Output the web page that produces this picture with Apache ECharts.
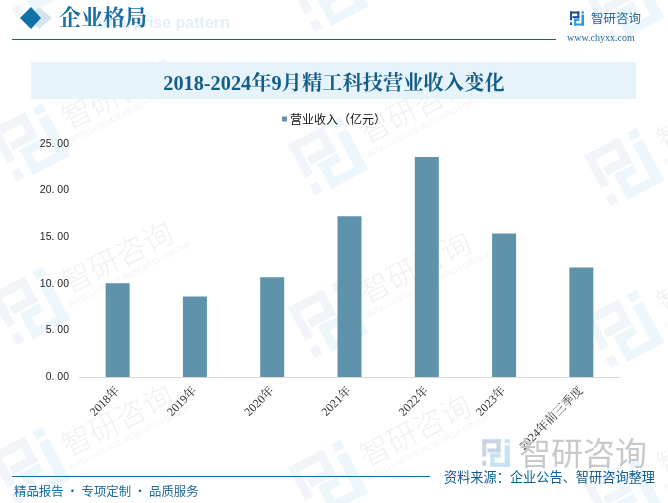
<!DOCTYPE html>
<html><head><meta charset="utf-8">
<style>html,body{margin:0;padding:0;background:#fff}#c{width:668px;height:503px}</style>
<script src="https://cdn.jsdelivr.net/npm/echarts@6/dist/echarts.min.js"></script>
</head><body><div id="c"></div>
<script>
const categories = ['2018年','2019年','2020年','2021年','2022年','2023年','2024年前三季度'];
const revenue = [10.05,8.65,10.7,17.25,23.6,15.4,11.75];
const seriesName = '营业收入（亿元）';
const chartTitle = '2018-2024年9月精工科技营业收入变化';
const watermarkSpots = [[117,93],[415,107],[712,115],[117,257],[415,267],[712,278],[117,420],[415,430],[712,440],[117,-70],[415,-56]];
const logoSpots = [[30,-20],[328,-6],[624,5],[30,143],[328,157],[624,168],[30,307],[328,320],[624,330],[30,467],[328,480],[624,497]];
const serif = '"Liberation Serif","Noto Serif CJK SC","Noto Sans CJK SC",serif';
const sans = '"Noto Sans CJK SC",sans-serif';
const g = [];
const darkParts=[[0,0,18,4],[0,0,4,17],[14,0,4,13],[5,9,13,4],[0,21,4,5]];
const lightParts=[[22,0,5,4],[22,6,5,21],[8,23,19,4],[8,14,4,13],[8,14,10,4]];
function logo(x,y,s,c1,c2,rot,z){
  const mk=(parts,color)=>parts.map(p=>({type:'rect',shape:{x:(p[0]-13.5)*s,y:(p[1]-13.5)*s,width:p[2]*s,height:p[3]*s},style:{fill:color}}));
  g.push({type:'group',x,y,rotation:rot,z:z,children:mk(darkParts,c1).concat(mk(lightParts,c2))});
}
logoSpots.forEach(p=>logo(p[0],p[1],2.2,'#f1f4f9','#ecf6fb',0.49,0));
watermarkSpots.forEach(p=>{
  g.push({type:'group',x:p[0],y:p[1],rotation:0.47,z:0,children:[
    {type:'text',style:{text:'智研咨询',x:0,y:0,align:'center',verticalAlign:'middle',font:'300 30px '+sans,fill:'#f1f1f1',letterSpacing:8}},
    {type:'text',style:{text:'INTELLIGENCE RESEARCH GROUP',x:4,y:22,align:'center',verticalAlign:'middle',font:'8px "Liberation Sans",sans-serif',fill:'#f3f3f3'}}
  ]});
});
// header
g.push({type:'polygon',z:1,shape:{points:[[39,7],[52,18],[39,29],[28,18]]},style:{fill:'#d5e5ef'}});
g.push({type:'polygon',z:2,shape:{points:[[31,7],[41,18],[31,29],[20,18]]},style:{fill:'#1070a8'}});
g.push({type:'text',z:1,style:{text:'Enterprise pattern',x:92,y:24,verticalAlign:'middle',font:'bold 16px "Liberation Sans",sans-serif',fill:'#e3f0f9'}});
g.push({type:'text',z:2,style:{text:'企业格局',x:59,y:19,verticalAlign:'middle',font:'bold 22px '+serif,fill:'#1c6e9f'}});
g.push({type:'rect',z:2,shape:{x:12,y:39,width:544,height:1},style:{fill:'#1b5f8b'}});
// brand
logo(577,18.5,0.52,'#1f4e96','#2a9bd8',0,3);
g.push({type:'text',z:3,style:{text:'智研咨询',x:591,y:18,verticalAlign:'middle',font:'12.5px '+sans,fill:'#1d6a9b',letterSpacing:1}});
g.push({type:'text',z:3,style:{text:'www.chyxx.com',x:567,y:38,verticalAlign:'middle',font:'10px '+serif,fill:'#1d6a9b',letterSpacing:1.2}});
// title band
g.push({type:'rect',z:1,shape:{x:31,y:62,width:605,height:37},style:{fill:'#e6f3fb'}});
// bottom watermark logo
logo(496,453,1.02,'#c9d5e6','#c6e2f4',0,1);
g.push({type:'text',z:1,style:{text:'智研咨询',x:519,y:453,verticalAlign:'middle',font:'32px '+sans,fill:'#c9c9c9',letterSpacing:1}});
// footer
g.push({type:'rect',z:3,shape:{x:12,y:476,width:418,height:1},style:{fill:'#1a6a9c'}});
g.push({type:'text',z:3,style:{text:'精品报告 · 专项定制 · 品质服务',x:14,y:491,verticalAlign:'middle',font:'12.4px '+sans,fill:'#1a6a9c'}});
g.push({type:'text',z:3,style:{text:'资料来源：企业公告、智研咨询整理',x:444,y:477,verticalAlign:'middle',font:'13.2px '+sans,fill:'#0f5f92'}});
const chart = echarts.init(document.getElementById('c'),null,{renderer:'canvas'});
chart.setOption({
  animation:false,
  backgroundColor:'#fff',
  title:{text:chartTitle,left:'center',top:70,textStyle:{fontFamily:serif,fontSize:20.3,fontWeight:'bold',color:'#155d89'}},
  legend:{top:108,left:'center',itemWidth:5,itemHeight:5,icon:'rect',itemGap:4,textStyle:{fontFamily:sans,fontSize:12,color:'#111',padding:[0,0,0,-2]}},
  grid:{left:79,right:48,top:144,bottom:126},
  xAxis:{type:'category',data:categories,axisTick:{show:false},axisLine:{lineStyle:{color:'#d9d9d9',width:1}},
    axisLabel:{rotate:45,interval:0,margin:12,fontFamily:serif,fontSize:12,color:'#333'}},
  yAxis:{type:'value',min:0,max:25,interval:5,splitLine:{show:false},axisLine:{show:false},axisTick:{show:false},
    axisLabel:{margin:10,fontFamily:'"Liberation Sans",sans-serif',fontSize:10.5,color:'#222',formatter:v=>v.toFixed(2).replace('.','. ')}},
  graphic:{elements:g},
  series:[{name:seriesName,type:'bar',data:revenue,barWidth:24,itemStyle:{color:'#5f93ab'}}]
});
</script></body></html>
